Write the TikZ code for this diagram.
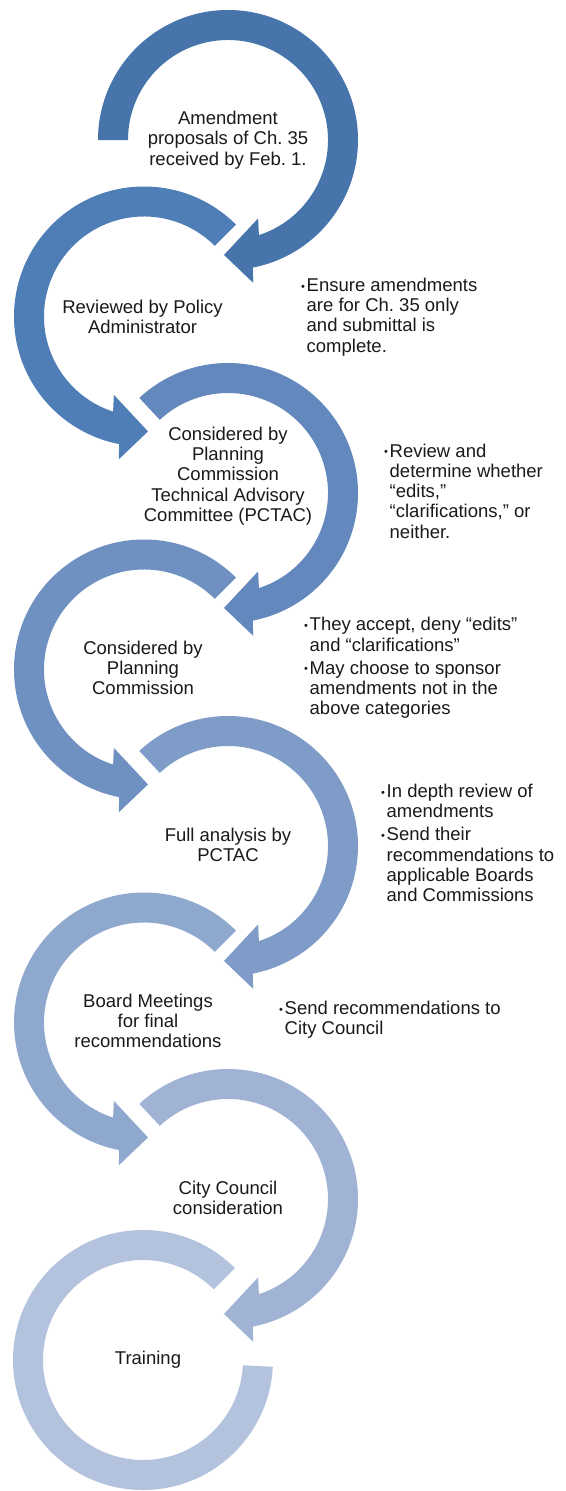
\documentclass[tikz,border=0pt]{standalone}
\usepackage{fontspec}
\setmainfont{Liberation Sans}
\frenchspacing
\definecolor{c1}{HTML}{4674AB}
\definecolor{c2}{HTML}{4F7DB6}
\definecolor{c3}{HTML}{6388BD}
\definecolor{c4}{HTML}{6F91C2}
\definecolor{c5}{HTML}{7F9CC8}
\definecolor{c6}{HTML}{8FA8CE}
\definecolor{c7}{HTML}{A1B3D4}
\definecolor{c8}{HTML}{B3C3DD}
\definecolor{txt}{HTML}{1A1A1A}
\newcommand\cwarrow[3]{%
  \begin{scope}[shift={(#1)}]
    \fill[#3] (#2:130) arc[start angle=#2, end angle=-79, radius=130]
      -- (-80:145) -- (-92:115) -- (-69:84) -- (-72:100)
      arc[start angle=-72, end angle=#2, radius=100] -- cycle;
  \end{scope}}
\newcommand\ccwarrow[3]{%
  \begin{scope}[shift={(#1)}]
    \fill[#3] (#2:130) arc[start angle=#2, end angle=259, radius=130]
      -- (260:145) -- (272:115) -- (249:84) -- (252:100)
      arc[start angle=252, end angle=#2, radius=100] -- cycle;
  \end{scope}}
\newcommand\bu{\makebox[5.5pt][l]{\fontsize{11}{11}\selectfont\raisebox{1.2pt}{•}}}
\newcommand\ind{\hspace*{5.5pt}}
\begin{document}
\begin{tikzpicture}[x=1pt,y=1pt,
  ctext/.style={align=center, font=\fontsize{18.5}{20.3}\selectfont, inner sep=0, text=txt},
  btext/.style={align=left, anchor=west, font=\fontsize{18.5}{20.3}\selectfont, inner sep=0, text=txt}]
\useasboundingbox (0,0) rectangle (565,-1491);
\fill[white] (0,0) rectangle (565,-1491);
% ring 8 (no head)
\begin{scope}[shift={(143,-1360)}]
  \fill[c8] (45:130) arc[start angle=45, end angle=357, radius=130]
    -- (357:100) arc[start angle=357, end angle=45, radius=100] -- cycle;
\end{scope}
\cwarrow{228,-1199}{133}{c7}
\ccwarrow{144,-1022.5}{45}{c6}
\cwarrow{228,-846}{133}{c5}
\ccwarrow{144,-669.5}{45}{c4}
\cwarrow{228,-493}{133}{c3}
\ccwarrow{144,-316.5}{45}{c2}
\cwarrow{228,-140}{180}{c1}
% step texts
\node[ctext] (s1) at (228,-140) {Amendment\\proposals of Ch. 35\\received by Feb. 1.};
\node[ctext] (s2) at (142.5,-317) {Reviewed by Policy\\Administrator};
\node[ctext] (s3) at (228,-476) {Considered by\\Planning\\Commission\\Technical Advisory\\Committee (PCTAC)};
\node[ctext] (s4) at (143,-668) {Considered by\\Planning\\Commission};
\node[ctext] (s5) at (228,-845) {Full analysis by\\PCTAC};
\node[ctext] (s6) at (148,-1021) {Board Meetings\\for final\\recommendations};
\node[ctext] (s7) at (228,-1198) {City Council\\consideration};
\node[ctext] (s8) at (148,-1360) {Training};
% bullet notes
\node[btext] (n1) at (301,-317) {\bu Ensure amendments\\ \ind are for Ch. 35 only\\ \ind and submittal is\\ \ind complete.};
\node[btext] (n2) at (384,-491) {\bu Review and\\ \ind determine whether\\ \ind “edits,”\\ \ind “clarifications,” or\\ \ind neither.};
\node[btext] (n3) at (304,-668) {\bu They accept, deny “edits”\\ \ind and “clarifications”\\[2.5pt] \bu May choose to sponsor\\ \ind amendments not in the\\ \ind above categories};
\node[btext] (n4) at (381,-843) {\bu In depth review of\\ \ind amendments\\[2.5pt] \bu Send their\\ \ind recommendations to\\ \ind applicable Boards\\ \ind and Commissions};
\node[btext] (n5) at (279,-1020) {\bu Send recommendations to\\ \ind City Council};
\end{tikzpicture}
\end{document}
